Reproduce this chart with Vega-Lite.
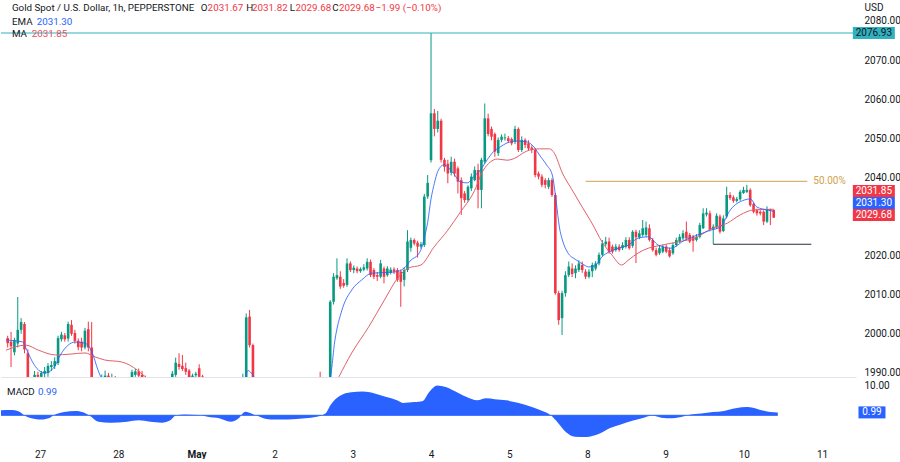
{
"$schema":"https://vega.github.io/schema/vega-lite/v6.json",
"padding":0,"spacing":0,"background":"white",
"config":{"view":{"stroke":null},"font":"Roboto","axis":{"labelFont":"Roboto","labelColor":"#131722","labelFontSize":10,"grid":false,"ticks":false,"tickSize":0,"domain":false}},
"datasets":{
"candles":[
{"i":0,"o":1998.9,"h":1999.5,"l":1996.5,"c":1997.6},{"i":1,"o":1998.0,"h":2000.5,"l":1991.5,"c":1996.8},{"i":2,"o":1995.3,"h":1999.0,"l":1994.5,"c":1998.4},{"i":3,"o":1997.5,"h":2009.4,"l":1996.5,"c":2001.0},{"i":4,"o":2001.0,"h":2004.0,"l":2000.0,"c":2003.0},{"i":5,"o":2002.5,"h":2003.0,"l":1995.0,"c":1996.0},{"i":6,"o":1995.0,"h":1996.0,"l":1986.0,"c":1987.0},{"i":7,"o":1987.0,"h":1988.0,"l":1984.0,"c":1986.0},{"i":8,"o":1986.0,"h":1990.5,"l":1985.5,"c":1989.5},{"i":9,"o":1989.5,"h":1990.3,"l":1987.0,"c":1989.0},
{"i":10,"o":1989.0,"h":1990.5,"l":1988.0,"c":1990.0},{"i":11,"o":1989.8,"h":1991.5,"l":1988.5,"c":1990.5},{"i":12,"o":1990.0,"h":1992.5,"l":1989.0,"c":1991.8},{"i":13,"o":1991.5,"h":1993.0,"l":1990.5,"c":1992.0},{"i":14,"o":1991.7,"h":1994.0,"l":1991.0,"c":1993.0},{"i":15,"o":1992.5,"h":1999.5,"l":1992.0,"c":1998.9},{"i":16,"o":1998.6,"h":2000.5,"l":1998.0,"c":1999.8},{"i":17,"o":1999.6,"h":2000.2,"l":1998.0,"c":1998.6},{"i":18,"o":1998.8,"h":2003.1,"l":1998.0,"c":2002.5},{"i":19,"o":2002.3,"h":2003.5,"l":1999.5,"c":2000.0},
{"i":20,"o":2000.2,"h":2001.0,"l":1997.5,"c":1998.2},{"i":21,"o":1998.2,"h":1998.8,"l":1995.8,"c":1996.6},{"i":22,"o":1998.0,"h":1999.0,"l":1995.5,"c":1996.5},{"i":23,"o":1996.5,"h":2001.5,"l":1996.0,"c":2000.8},{"i":24,"o":2001.2,"h":2003.1,"l":1995.5,"c":1996.5},{"i":25,"o":1996.5,"h":2003.0,"l":1985.0,"c":1987.0},{"i":26,"o":1987.0,"h":1988.0,"l":1984.0,"c":1985.0},{"i":27,"o":1985.0,"h":1987.5,"l":1984.5,"c":1986.5},{"i":28,"o":1986.5,"h":1989.6,"l":1986.0,"c":1988.0},{"i":29,"o":1988.0,"h":1990.6,"l":1987.5,"c":1989.3},
{"i":30,"o":1989.3,"h":1990.0,"l":1987.0,"c":1988.0},{"i":31,"o":1988.0,"h":1989.8,"l":1987.2,"c":1988.8},{"i":32,"o":1988.8,"h":1989.2,"l":1986.0,"c":1987.0},{"i":33,"o":1987.0,"h":1987.5,"l":1984.5,"c":1985.5},{"i":34,"o":1985.5,"h":1987.2,"l":1985.0,"c":1986.5},{"i":35,"o":1986.5,"h":1988.2,"l":1986.0,"c":1987.5},{"i":36,"o":1987.5,"h":1988.9,"l":1987.0,"c":1988.6},{"i":37,"o":1988.5,"h":1990.8,"l":1988.0,"c":1990.2},{"i":38,"o":1989.5,"h":1991.0,"l":1989.0,"c":1990.4},{"i":39,"o":1990.4,"h":1991.1,"l":1988.5,"c":1989.3},
{"i":40,"o":1989.5,"h":1990.5,"l":1987.5,"c":1988.5},{"i":41,"o":1988.7,"h":1989.3,"l":1986.8,"c":1987.5},{"i":42,"o":1987.5,"h":1988.0,"l":1984.8,"c":1985.5},{"i":43,"o":1985.5,"h":1986.0,"l":1982.0,"c":1983.0},{"i":44,"o":1983.0,"h":1985.5,"l":1982.5,"c":1984.5},{"i":45,"o":1984.5,"h":1985.0,"l":1981.0,"c":1982.0},{"i":46,"o":1982.0,"h":1985.0,"l":1981.5,"c":1984.0},{"i":47,"o":1984.0,"h":1987.0,"l":1983.5,"c":1986.0},{"i":48,"o":1986.0,"h":1988.8,"l":1985.5,"c":1988.3},{"i":49,"o":1988.5,"h":1990.5,"l":1987.5,"c":1989.8},
{"i":50,"o":1989.5,"h":1993.9,"l":1989.0,"c":1992.6},{"i":51,"o":1992.3,"h":1995.0,"l":1990.8,"c":1991.5},{"i":52,"o":1991.8,"h":1994.6,"l":1990.5,"c":1991.0},{"i":53,"o":1991.2,"h":1992.6,"l":1989.5,"c":1990.3},{"i":54,"o":1990.6,"h":1991.0,"l":1988.0,"c":1988.8},{"i":55,"o":1989.0,"h":1989.8,"l":1988.5,"c":1989.3},{"i":56,"o":1989.4,"h":1990.3,"l":1989.0,"c":1989.8},{"i":57,"o":1991.2,"h":1992.2,"l":1988.5,"c":1989.0},{"i":58,"o":1989.1,"h":1989.5,"l":1988.0,"c":1988.8},{"i":59,"o":1988.8,"h":1988.9,"l":1986.0,"c":1986.5},
{"i":60,"o":1986.5,"h":1987.0,"l":1983.0,"c":1984.0},{"i":61,"o":1984.0,"h":1986.0,"l":1983.5,"c":1985.0},{"i":62,"o":1985.0,"h":1985.5,"l":1981.5,"c":1982.5},{"i":63,"o":1982.5,"h":1983.0,"l":1979.0,"c":1980.0},{"i":64,"o":1980.0,"h":1983.0,"l":1979.5,"c":1982.0},{"i":65,"o":1982.0,"h":1982.5,"l":1977.0,"c":1978.5},{"i":66,"o":1978.5,"h":1982.0,"l":1977.5,"c":1981.0},{"i":67,"o":1981.0,"h":1984.0,"l":1980.5,"c":1983.5},{"i":68,"o":1983.5,"h":1986.0,"l":1983.0,"c":1985.0},{"i":69,"o":1985.0,"h":1987.5,"l":1984.5,"c":1986.8},
{"i":70,"o":1986.8,"h":1989.8,"l":1986.5,"c":1988.0},{"i":71,"o":1988.0,"h":2005.2,"l":1987.5,"c":2004.2},{"i":72,"o":2004.4,"h":2006.1,"l":1996.5,"c":1997.1},{"i":73,"o":1997.1,"h":1997.5,"l":1986.0,"c":1987.0},{"i":74,"o":1987.0,"h":1988.8,"l":1985.0,"c":1988.0},{"i":75,"o":1988.0,"h":1988.5,"l":1984.0,"c":1985.0},{"i":76,"o":1985.0,"h":1985.5,"l":1982.0,"c":1982.5},{"i":77,"o":1982.5,"h":1985.0,"l":1982.0,"c":1984.0},{"i":78,"o":1984.0,"h":1984.5,"l":1981.0,"c":1982.0},{"i":79,"o":1982.0,"h":1983.8,"l":1981.5,"c":1983.0},
{"i":80,"o":1983.0,"h":1984.5,"l":1982.5,"c":1983.8},{"i":81,"o":1983.8,"h":1984.2,"l":1982.0,"c":1982.6},{"i":82,"o":1982.6,"h":1984.0,"l":1982.0,"c":1983.5},{"i":83,"o":1983.5,"h":1983.8,"l":1981.0,"c":1982.0},{"i":84,"o":1982.0,"h":1983.5,"l":1981.5,"c":1982.8},{"i":85,"o":1982.8,"h":1984.2,"l":1982.4,"c":1983.6},{"i":86,"o":1983.6,"h":1984.0,"l":1982.5,"c":1982.9},{"i":87,"o":1982.9,"h":1985.0,"l":1982.5,"c":1984.5},{"i":88,"o":1984.5,"h":1986.2,"l":1984.0,"c":1985.6},{"i":89,"o":1985.6,"h":1986.0,"l":1983.6,"c":1984.2},
{"i":90,"o":1984.2,"h":1986.8,"l":1983.8,"c":1986.0},{"i":91,"o":1986.0,"h":1988.0,"l":1985.5,"c":1987.4},{"i":92,"o":1987.4,"h":1988.8,"l":1986.8,"c":1988.3},{"i":93,"o":1988.3,"h":1990.3,"l":1985.8,"c":1986.5},{"i":94,"o":1986.5,"h":1988.0,"l":1986.0,"c":1987.5},{"i":95,"o":1987.5,"h":1988.9,"l":1987.0,"c":1988.5},{"i":96,"o":1988.5,"h":2008.6,"l":1987.0,"c":2008.2},{"i":97,"o":2008.2,"h":2015.5,"l":2007.5,"c":2014.6},{"i":98,"o":2014.2,"h":2019.3,"l":2013.8,"c":2015.0},{"i":99,"o":2014.6,"h":2016.0,"l":2011.5,"c":2012.1},
{"i":100,"o":2013.0,"h":2014.0,"l":2011.8,"c":2012.3},{"i":101,"o":2012.5,"h":2019.3,"l":2012.0,"c":2018.0},{"i":102,"o":2018.0,"h":2018.5,"l":2015.8,"c":2016.3},{"i":103,"o":2016.3,"h":2017.5,"l":2015.5,"c":2016.9},{"i":104,"o":2016.7,"h":2017.2,"l":2015.5,"c":2016.0},{"i":105,"o":2016.0,"h":2017.0,"l":2015.6,"c":2016.6},{"i":106,"o":2016.4,"h":2017.8,"l":2016.0,"c":2017.0},{"i":107,"o":2016.7,"h":2019.3,"l":2016.2,"c":2018.4},{"i":108,"o":2018.4,"h":2019.0,"l":2014.5,"c":2015.0},{"i":109,"o":2016.3,"h":2016.8,"l":2014.0,"c":2014.6},
{"i":110,"o":2015.0,"h":2015.8,"l":2013.5,"c":2014.6},{"i":111,"o":2014.6,"h":2018.9,"l":2014.2,"c":2018.0},{"i":112,"o":2016.7,"h":2017.2,"l":2012.9,"c":2014.6},{"i":113,"o":2015.0,"h":2017.3,"l":2014.6,"c":2016.7},{"i":114,"o":2015.6,"h":2017.0,"l":2015.2,"c":2016.4},{"i":115,"o":2016.5,"h":2017.0,"l":2015.3,"c":2015.9},{"i":116,"o":2016.3,"h":2016.8,"l":2013.3,"c":2013.8},{"i":117,"o":2015.9,"h":2016.4,"l":2006.9,"c":2013.3},{"i":118,"o":2013.8,"h":2017.0,"l":2012.1,"c":2016.3},{"i":119,"o":2016.3,"h":2026.5,"l":2015.8,"c":2023.6},
{"i":120,"o":2022.0,"h":2024.6,"l":2021.0,"c":2024.0},{"i":121,"o":2024.0,"h":2024.4,"l":2022.6,"c":2023.1},{"i":122,"o":2023.3,"h":2023.8,"l":2019.5,"c":2022.3},{"i":123,"o":2022.3,"h":2023.5,"l":2021.8,"c":2022.9},{"i":124,"o":2022.7,"h":2035.8,"l":2022.2,"c":2035.1},{"i":125,"o":2035.1,"h":2040.6,"l":2034.5,"c":2038.6},{"i":126,"o":2044.4,"h":2076.93,"l":2043.8,"c":2056.4},{"i":127,"o":2056.4,"h":2057.5,"l":2050.5,"c":2052.4},{"i":128,"o":2052.4,"h":2057.0,"l":2051.5,"c":2054.5},{"i":129,"o":2054.5,"h":2055.0,"l":2043.8,"c":2044.5},
{"i":130,"o":2044.5,"h":2045.0,"l":2041.5,"c":2042.7},{"i":131,"o":2043.5,"h":2044.5,"l":2038.5,"c":2041.0},{"i":132,"o":2041.2,"h":2045.3,"l":2040.5,"c":2044.0},{"i":133,"o":2044.0,"h":2044.8,"l":2040.2,"c":2041.0},{"i":134,"o":2042.3,"h":2042.8,"l":2035.9,"c":2038.9},{"i":135,"o":2039.3,"h":2040.0,"l":2030.4,"c":2034.7},{"i":136,"o":2035.9,"h":2036.5,"l":2033.5,"c":2034.2},{"i":137,"o":2034.2,"h":2038.0,"l":2033.8,"c":2037.6},{"i":138,"o":2037.2,"h":2041.0,"l":2036.5,"c":2040.2},{"i":139,"o":2039.3,"h":2042.8,"l":2039.0,"c":2041.9},
{"i":140,"o":2041.9,"h":2043.5,"l":2032.1,"c":2036.8},{"i":141,"o":2036.8,"h":2045.0,"l":2032.1,"c":2044.5},{"i":142,"o":2044.0,"h":2058.9,"l":2043.5,"c":2055.1},{"i":143,"o":2055.1,"h":2056.3,"l":2050.5,"c":2051.1},{"i":144,"o":2052.4,"h":2053.0,"l":2049.5,"c":2050.4},{"i":145,"o":2051.1,"h":2051.5,"l":2045.3,"c":2046.6},{"i":146,"o":2046.2,"h":2050.2,"l":2045.5,"c":2049.6},{"i":147,"o":2049.6,"h":2051.0,"l":2049.0,"c":2050.4},{"i":148,"o":2050.0,"h":2051.2,"l":2049.4,"c":2050.2},{"i":149,"o":2050.0,"h":2050.6,"l":2048.8,"c":2049.3},
{"i":150,"o":2049.8,"h":2050.2,"l":2048.2,"c":2048.7},{"i":151,"o":2049.1,"h":2053.2,"l":2048.5,"c":2052.4},{"i":152,"o":2052.4,"h":2052.8,"l":2046.5,"c":2047.0},{"i":153,"o":2047.0,"h":2050.5,"l":2046.5,"c":2049.6},{"i":154,"o":2049.6,"h":2050.0,"l":2047.5,"c":2048.3},{"i":155,"o":2048.7,"h":2049.5,"l":2046.8,"c":2047.4},{"i":156,"o":2047.6,"h":2048.2,"l":2046.2,"c":2047.0},{"i":157,"o":2047.0,"h":2047.5,"l":2040.0,"c":2040.6},{"i":158,"o":2041.0,"h":2041.5,"l":2039.5,"c":2040.2},{"i":159,"o":2040.2,"h":2040.8,"l":2037.5,"c":2038.1},
{"i":160,"o":2039.3,"h":2039.8,"l":2037.2,"c":2038.1},{"i":161,"o":2037.6,"h":2039.9,"l":2037.0,"c":2039.3},{"i":162,"o":2039.3,"h":2039.8,"l":2035.0,"c":2035.5},{"i":163,"o":2035.5,"h":2036.0,"l":2010.0,"c":2010.4},{"i":164,"o":2010.4,"h":2011.0,"l":2002.3,"c":2003.5},{"i":165,"o":2004.0,"h":2011.0,"l":1999.7,"c":2010.4},{"i":166,"o":2010.4,"h":2016.0,"l":2009.5,"c":2015.0},{"i":167,"o":2015.0,"h":2018.5,"l":2014.5,"c":2017.2},{"i":168,"o":2016.7,"h":2018.0,"l":2014.5,"c":2015.3},{"i":169,"o":2015.5,"h":2017.5,"l":2014.2,"c":2016.7},
{"i":170,"o":2016.3,"h":2018.8,"l":2015.8,"c":2018.0},{"i":171,"o":2017.6,"h":2018.5,"l":2015.6,"c":2016.3},{"i":172,"o":2015.9,"h":2016.5,"l":2014.0,"c":2014.6},{"i":173,"o":2014.6,"h":2016.5,"l":2014.2,"c":2015.9},{"i":174,"o":2016.0,"h":2018.2,"l":2014.5,"c":2017.6},{"i":175,"o":2016.7,"h":2018.6,"l":2016.2,"c":2018.0},{"i":176,"o":2018.0,"h":2020.8,"l":2017.5,"c":2020.2},{"i":177,"o":2020.2,"h":2024.0,"l":2019.8,"c":2023.1},{"i":178,"o":2022.9,"h":2024.8,"l":2022.3,"c":2023.6},{"i":179,"o":2023.6,"h":2024.6,"l":2020.5,"c":2021.0},
{"i":180,"o":2022.3,"h":2022.8,"l":2020.5,"c":2021.0},{"i":181,"o":2021.4,"h":2023.0,"l":2021.0,"c":2022.3},{"i":182,"o":2022.3,"h":2022.9,"l":2021.0,"c":2021.4},{"i":183,"o":2021.9,"h":2023.4,"l":2021.4,"c":2022.7},{"i":184,"o":2022.3,"h":2024.7,"l":2021.8,"c":2024.0},{"i":185,"o":2024.0,"h":2024.7,"l":2021.5,"c":2021.9},{"i":186,"o":2022.5,"h":2026.5,"l":2022.0,"c":2026.1},{"i":187,"o":2026.1,"h":2026.6,"l":2018.1,"c":2024.7},{"i":188,"o":2024.7,"h":2026.5,"l":2024.2,"c":2025.7},{"i":189,"o":2025.3,"h":2029.1,"l":2024.8,"c":2027.0},
{"i":190,"o":2025.3,"h":2028.7,"l":2024.8,"c":2027.2},{"i":191,"o":2027.0,"h":2028.0,"l":2023.6,"c":2024.0},{"i":192,"o":2024.0,"h":2024.5,"l":2021.0,"c":2021.4},{"i":193,"o":2021.4,"h":2022.0,"l":2019.8,"c":2020.2},{"i":194,"o":2020.6,"h":2022.5,"l":2020.2,"c":2021.9},{"i":195,"o":2021.0,"h":2022.8,"l":2020.6,"c":2022.3},{"i":196,"o":2022.3,"h":2022.8,"l":2020.6,"c":2021.0},{"i":197,"o":2021.4,"h":2022.0,"l":2019.5,"c":2019.8},{"i":198,"o":2020.6,"h":2023.3,"l":2020.2,"c":2022.7},{"i":199,"o":2022.7,"h":2024.6,"l":2022.3,"c":2024.0},
{"i":200,"o":2023.6,"h":2025.5,"l":2023.2,"c":2024.8},{"i":201,"o":2024.4,"h":2026.5,"l":2024.0,"c":2025.7},{"i":202,"o":2026.1,"h":2028.7,"l":2024.0,"c":2024.4},{"i":203,"o":2025.3,"h":2025.8,"l":2023.2,"c":2023.6},{"i":204,"o":2024.8,"h":2025.3,"l":2021.0,"c":2023.8},{"i":205,"o":2024.0,"h":2025.5,"l":2023.6,"c":2024.8},{"i":206,"o":2024.8,"h":2028.4,"l":2024.4,"c":2027.8},{"i":207,"o":2027.0,"h":2032.1,"l":2026.8,"c":2030.8},{"i":208,"o":2030.5,"h":2032.1,"l":2030.0,"c":2031.0},{"i":209,"o":2030.8,"h":2031.5,"l":2026.2,"c":2026.7},
{"i":210,"o":2026.7,"h":2028.0,"l":2022.9,"c":2027.4},{"i":211,"o":2027.2,"h":2030.8,"l":2026.8,"c":2030.2},{"i":212,"o":2030.0,"h":2030.5,"l":2025.6,"c":2026.1},{"i":213,"o":2026.3,"h":2030.3,"l":2026.0,"c":2029.5},{"i":214,"o":2030.0,"h":2037.6,"l":2029.5,"c":2035.5},{"i":215,"o":2035.5,"h":2036.2,"l":2034.2,"c":2034.7},{"i":216,"o":2034.9,"h":2035.4,"l":2033.5,"c":2034.0},{"i":217,"o":2034.0,"h":2035.0,"l":2033.6,"c":2034.5},{"i":218,"o":2034.4,"h":2036.8,"l":2034.0,"c":2036.3},{"i":219,"o":2036.0,"h":2037.6,"l":2035.8,"c":2036.8},
{"i":220,"o":2036.3,"h":2038.1,"l":2036.0,"c":2036.8},{"i":221,"o":2036.8,"h":2037.2,"l":2032.5,"c":2032.9},{"i":222,"o":2033.2,"h":2033.6,"l":2030.8,"c":2031.2},{"i":223,"o":2031.6,"h":2032.0,"l":2030.2,"c":2030.8},{"i":224,"o":2031.2,"h":2031.6,"l":2030.3,"c":2030.8},{"i":225,"o":2031.2,"h":2031.6,"l":2027.8,"c":2028.7},{"i":226,"o":2028.7,"h":2032.6,"l":2028.3,"c":2031.8},{"i":227,"o":2031.8,"h":2032.0,"l":2027.8,"c":2031.5},{"i":228,"o":2031.67,"h":2031.82,"l":2029.68,"c":2029.68}
],
"ema":[
{"i":-0.5,"v":1998.4},{"i":4.5,"v":1997.9},{"i":5.4,"v":1996.4},{"i":7.4,"v":1992.8},{"i":9.2,"v":1990.7},{"i":11.3,"v":1990.0},{"i":14.2,"v":1992.0},{"i":15.7,"v":1994.6},{"i":18,"v":1997.1},{"i":20.1,"v":1997.9},{"i":23,"v":1997.6},{"i":25.1,"v":1995.3},{"i":26.9,"v":1990.7},{"i":28,"v":1988.7},{"i":32,"v":1987.6},{"i":36,"v":1987.8},{"i":40,"v":1988.2},{"i":45,"v":1985.8},{"i":49,"v":1987.5},{"i":52,"v":1988.6},{"i":55,"v":1988.9},{"i":58,"v":1988.6},{"i":63,"v":1985.5},{"i":67,"v":1983.5},{"i":70,"v":1986.0},{"i":71.5,"v":1990.6},{"i":72.5,"v":1990.0},{"i":74,"v":1988.0},{"i":80,"v":1984.5},{"i":88,"v":1984.0},{"i":94,"v":1986.8},{"i":96,"v":1989.0},{"i":97.4,"v":1998.4},{"i":99.5,"v":2006.1},{"i":102.4,"v":2011.2},{"i":105.4,"v":2013.8},{"i":108.3,"v":2015.5},{"i":115.1,"v":2015.8},{"i":118,"v":2016.8},{"i":120.1,"v":2018.9},{"i":122.1,"v":2020.2},{"i":123,"v":2021.5},{"i":124,"v":2024.5},{"i":125,"v":2028.5},{"i":126,"v":2034.5},{"i":127,"v":2038.5},{"i":128,"v":2041.5},{"i":129.8,"v":2043.2},{"i":132.7,"v":2041.0},{"i":134.8,"v":2038.8},{"i":136.9,"v":2038.6},{"i":138.6,"v":2040.1},{"i":140.7,"v":2041.9},{"i":142.7,"v":2044.5},{"i":144.5,"v":2046.5},{"i":146.6,"v":2047.8},{"i":148.6,"v":2048.8},{"i":151.6,"v":2049.3},{"i":154.5,"v":2049.1},{"i":156.9,"v":2047.5},{"i":158.3,"v":2045.7},{"i":160.4,"v":2043.2},{"i":162.1,"v":2040.6},{"i":163.3,"v":2033.5},{"i":164.2,"v":2027.3},{"i":165.1,"v":2024.0},{"i":166.6,"v":2020.9},{"i":169.2,"v":2018.9},{"i":171,"v":2017.9},{"i":173,"v":2017.1},{"i":175.1,"v":2017.6},{"i":176.8,"v":2019.6},{"i":178.9,"v":2020.9},{"i":181.9,"v":2021.9},{"i":184.8,"v":2022.7},{"i":187.7,"v":2024.5},{"i":190.7,"v":2024.8},{"i":193.6,"v":2022.7},{"i":197.4,"v":2021.9},{"i":201.6,"v":2024.0},{"i":205.4,"v":2025.3},{"i":209.2,"v":2026.5},{"i":212.1,"v":2027.3},{"i":215.1,"v":2031.7},{"i":219.2,"v":2034.2},{"i":221,"v":2034.5},{"i":223,"v":2032.4},{"i":226,"v":2031.7},{"i":228,"v":2031.3}
],
"ma":[
{"i":-0.5,"v":1995.8},{"i":5.4,"v":1997.1},{"i":9.2,"v":1995.8},{"i":14.2,"v":1994.6},{"i":18.6,"v":1994.8},{"i":23,"v":1995.1},{"i":26,"v":1994.1},{"i":28.9,"v":1993.3},{"i":33.9,"v":1992.8},{"i":38.6,"v":1990.7},{"i":40.7,"v":1989.2},{"i":42.2,"v":1988.2},{"i":50,"v":1987.0},{"i":60,"v":1986.8},{"i":70,"v":1985.5},{"i":80,"v":1985.0},{"i":90,"v":1984.0},{"i":96,"v":1984.5},{"i":98.6,"v":1989.0},{"i":102.4,"v":1995.1},{"i":107.4,"v":2001.7},{"i":112.1,"v":2008.6},{"i":116.3,"v":2014.5},{"i":119.2,"v":2016.8},{"i":123,"v":2017.6},{"i":126.9,"v":2022.2},{"i":131,"v":2026.5},{"i":134.8,"v":2031.2},{"i":138.6,"v":2036.0},{"i":141.6,"v":2041.9},{"i":143.6,"v":2043.9},{"i":145.7,"v":2044.7},{"i":148.6,"v":2044.4},{"i":151.6,"v":2045.2},{"i":153.3,"v":2046.2},{"i":155.4,"v":2047.0},{"i":158.3,"v":2047.3},{"i":161.3,"v":2047.3},{"i":162.7,"v":2046.2},{"i":165.1,"v":2041.1},{"i":168,"v":2036.8},{"i":171,"v":2032.4},{"i":173.9,"v":2028.3},{"i":176.9,"v":2023.5},{"i":179.8,"v":2020.2},{"i":182.7,"v":2017.6},{"i":184.8,"v":2018.9},{"i":187.7,"v":2020.7},{"i":190.7,"v":2021.9},{"i":193.6,"v":2022.5},{"i":199.5,"v":2023.5},{"i":205.4,"v":2024.8},{"i":209.2,"v":2026.8},{"i":214.2,"v":2028.3},{"i":218,"v":2030.4},{"i":222.1,"v":2031.7},{"i":228,"v":2031.85}
],
"macd":[
{"i":-0.5,"m":1.7},{"i":2.9,"m":1.8},{"i":5.4,"m":0.9},{"i":6.3,"m":0},{"i":7.9,"m":-0.8},{"i":11.3,"m":-1.4},{"i":13.9,"m":-0.8},{"i":15.0,"m":0},{"i":18.1,"m":1.1},{"i":21.4,"m":1.5},{"i":24.0,"m":0.9},{"i":25.7,"m":-0.2},{"i":28.2,"m":-2.2},{"i":31.6,"m":-2.5},{"i":36.6,"m":-2.2},{"i":40.0,"m":-1.7},{"i":43.4,"m":-2.2},{"i":46.8,"m":-2.5},{"i":49.3,"m":-1.7},{"i":51.0,"m":0},{"i":53.5,"m":0.3},{"i":57.7,"m":0.1},{"i":60.3,"m":-0.5},{"i":63.7,"m":-1.0},{"i":67.0,"m":-2.2},{"i":69.6,"m":-0.8},{"i":71.3,"m":1.2},{"i":73.8,"m":0.3},{"i":76.3,"m":-0.8},{"i":78.9,"m":-1.4},{"i":83.9,"m":-1.4},{"i":89.0,"m":-1.0},{"i":92.4,"m":-0.5},{"i":94.9,"m":0.6},{"i":96.6,"m":3.8},{"i":99.1,"m":6.6},{"i":102.5,"m":7.9},{"i":105.9,"m":8.1},{"i":109.2,"m":7.5},{"i":112.6,"m":6.3},{"i":116.0,"m":5.1},{"i":117.7,"m":4.2},{"i":121.1,"m":4.5},{"i":123.6,"m":4.9},{"i":125.3,"m":7.7},{"i":127.8,"m":10.2},{"i":130.3,"m":9.7},{"i":132.9,"m":8.3},{"i":136.3,"m":6.3},{"i":139.6,"m":5.1},{"i":142.2,"m":5.8},{"i":144.7,"m":5.5},{"i":148.1,"m":5.1},{"i":151.5,"m":4.3},{"i":154.8,"m":3.2},{"i":158.2,"m":1.7},{"i":161.2,"m":0},{"i":163.3,"m":-2.5},{"i":165.8,"m":-5.9},{"i":168.3,"m":-7.3},{"i":171.7,"m":-7.4},{"i":175.1,"m":-6.5},{"i":178.5,"m":-4.4},{"i":181.8,"m":-3.1},{"i":185.2,"m":-1.9},{"i":188.6,"m":-0.8},{"i":191.1,"m":-0.1},{"i":193.7,"m":-0.8},{"i":197.0,"m":-1.0},{"i":200.4,"m":-0.3},{"i":202.1,"m":0.2},{"i":205.5,"m":0.6},{"i":208.9,"m":1.1},{"i":212.2,"m":1.5},{"i":215.6,"m":2.4},{"i":219.0,"m":2.8},{"i":222.4,"m":2.0},{"i":225.7,"m":1.1},{"i":228,"m":0.99}
]
},
"vconcat":[
{
"width":855,"height":377,
"layer":[
{"data":{"name":"candles"},"mark":{"type":"rule","clip":true,"strokeWidth":1},
 "encoding":{
  "x":{"field":"i","type":"quantitative","scale":{"domain":[-0.5,251],"nice":false,"zero":false},"axis":{"orient":"bottom","labels":false,"ticks":false,"domain":true,"domainColor":"#e0e3eb","grid":false,"title":null}},
  "y":{"field":"l","type":"quantitative","scale":{"domain":[1988.95,2085.37],"nice":false,"zero":false},"axis":{"orient":"right","values":[1990,2000,2010,2020,2040,2050,2060,2070,2080],"format":".2f","labelPadding":8,"title":"USD","titleAngle":0,"titleAlign":"left","titleBaseline":"middle","titleX":8,"titleY":7,"titleFont":"Roboto","titleFontSize":10,"titleFontWeight":"normal","titleColor":"#131722"}},
  "y2":{"field":"h"},
  "color":{"condition":{"test":"datum.c >= datum.o","value":"#089981"},"value":"#f23645"}}},
{"data":{"name":"candles"},"mark":{"type":"bar","clip":true,"size":2.6},
 "encoding":{
  "x":{"field":"i","type":"quantitative"},
  "y":{"field":"o","type":"quantitative"},
  "y2":{"field":"c"},
  "color":{"condition":{"test":"datum.c >= datum.o","value":"#089981"},"value":"#f23645"}}},
{"data":{"name":"ma"},"mark":{"type":"line","clip":true,"color":"#e0606b","strokeWidth":1,"interpolate":"monotone"},
 "encoding":{"x":{"field":"i","type":"quantitative"},"y":{"field":"v","type":"quantitative"}}},
{"data":{"name":"ema"},"mark":{"type":"line","clip":true,"color":"#2962ff","strokeWidth":1,"opacity":0.85,"interpolate":"monotone"},
 "encoding":{"x":{"field":"i","type":"quantitative"},"y":{"field":"v","type":"quantitative"}}},
{"data":{"values":[{"level":2076.93}]},"mark":{"type":"rule","color":"#2fb1bf","strokeWidth":1},
 "encoding":{"y":{"field":"level","type":"quantitative"}}},
{"data":{"values":[{"from":172,"to":238,"level":2039.0}]},"mark":{"type":"rule","color":"#d1a24a","strokeWidth":1},
 "encoding":{"x":{"field":"from","type":"quantitative"},"x2":{"field":"to"},"y":{"field":"level","type":"quantitative"}}},
{"data":{"values":[{"from":210,"to":239.2,"level":2022.9}]},"mark":{"type":"rule","color":"#2a2e39","strokeWidth":1},
 "encoding":{"x":{"field":"from","type":"quantitative"},"x2":{"field":"to"},"y":{"field":"level","type":"quantitative"}}},
{"data":{"values":[{"label":"50.00%","level":2039.0}]},"mark":{"type":"text","align":"left","baseline":"middle","fontSize":10,"color":"#d1a24a"},
 "encoding":{"x":{"datum":239.8},"y":{"field":"level","type":"quantitative"},"text":{"field":"label"}}},
{"data":{"values":[{"value":2076.93}]},"layer":[
 {"mark":{"type":"point","shape":"M-1,-0.2857H1V0.2857H-1Z","size":1764,"filled":true,"opacity":1,"color":"#2fb1bf","strokeWidth":0},"encoding":{"x":{"datum":257.8},"y":{"field":"value","type":"quantitative"}}},
 {"mark":{"type":"text","align":"center","baseline":"middle","fontSize":10,"color":"#131722"},"encoding":{"x":{"datum":257.8},"y":{"field":"value","type":"quantitative"},"text":{"field":"value","format":".2f"}}}]},
{"data":{"values":[{"value":2031.85}]},"layer":[
 {"mark":{"type":"point","shape":"M-1,-0.2857H1V0.2857H-1Z","size":1764,"filled":true,"opacity":1,"color":"#f23645","strokeWidth":0},"encoding":{"x":{"datum":257.8},"y":{"datum":2036.52}}},
 {"mark":{"type":"text","align":"center","baseline":"middle","fontSize":10,"color":"white"},"encoding":{"x":{"datum":257.8},"y":{"datum":2036.52},"text":{"field":"value","format":".2f"}}}]},
{"data":{"values":[{"value":2031.30}]},"layer":[
 {"mark":{"type":"point","shape":"M-1,-0.2857H1V0.2857H-1Z","size":1764,"filled":true,"opacity":1,"color":"#2962ff","strokeWidth":0},"encoding":{"x":{"datum":257.8},"y":{"datum":2033.45}}},
 {"mark":{"type":"text","align":"center","baseline":"middle","fontSize":10,"color":"white"},"encoding":{"x":{"datum":257.8},"y":{"datum":2033.45},"text":{"field":"value","format":".2f"}}}]},
{"data":{"values":[{"value":2029.68}]},"layer":[
 {"mark":{"type":"point","shape":"M-1,-0.2857H1V0.2857H-1Z","size":1764,"filled":true,"opacity":1,"color":"#f23645","strokeWidth":0},"encoding":{"x":{"datum":257.8},"y":{"datum":2030.38}}},
 {"mark":{"type":"text","align":"center","baseline":"middle","fontSize":10,"color":"white"},"encoding":{"x":{"datum":257.8},"y":{"datum":2030.38},"text":{"field":"value","format":".2f"}}}]},
{"data":{"values":[{}]},"mark":{"type":"text","text":"Gold Spot / U.S. Dollar, 1h, PEPPERSTONE","align":"left","baseline":"middle","fontSize":9.8,"color":"#131722"},"encoding":{"x":{"datum":1.265},"y":{"datum":2083.45}}},
{"data":{"values":[{}]},"mark":{"type":"text","text":"O","align":"left","baseline":"middle","fontSize":9.8,"color":"#131722"},"encoding":{"x":{"datum":57.45},"y":{"datum":2083.45}}},
{"data":{"values":[{}]},"mark":{"type":"text","text":"2031.67","align":"left","baseline":"middle","fontSize":9.8,"color":"#f23645"},"encoding":{"x":{"datum":59.51},"y":{"datum":2083.45}}},
{"data":{"values":[{}]},"mark":{"type":"text","text":"H","align":"left","baseline":"middle","fontSize":9.8,"color":"#131722"},"encoding":{"x":{"datum":70.98},"y":{"datum":2083.45}}},
{"data":{"values":[{}]},"mark":{"type":"text","text":"2031.82","align":"left","baseline":"middle","fontSize":9.8,"color":"#f23645"},"encoding":{"x":{"datum":72.74},"y":{"datum":2083.45}}},
{"data":{"values":[{}]},"mark":{"type":"text","text":"L","align":"left","baseline":"middle","fontSize":9.8,"color":"#131722"},"encoding":{"x":{"datum":83.92},"y":{"datum":2083.45}}},
{"data":{"values":[{}]},"mark":{"type":"text","text":"2029.68","align":"left","baseline":"middle","fontSize":9.8,"color":"#f23645"},"encoding":{"x":{"datum":85.69},"y":{"datum":2083.45}}},
{"data":{"values":[{}]},"mark":{"type":"text","text":"C","align":"left","baseline":"middle","fontSize":9.8,"color":"#131722"},"encoding":{"x":{"datum":96.57},"y":{"datum":2083.45}}},
{"data":{"values":[{}]},"mark":{"type":"text","text":"2029.68","align":"left","baseline":"middle","fontSize":9.8,"color":"#f23645"},"encoding":{"x":{"datum":98.63},"y":{"datum":2083.45}}},
{"data":{"values":[{}]},"mark":{"type":"text","text":"−1.99 (−0.10%)","align":"left","baseline":"middle","fontSize":9.8,"color":"#f23645"},"encoding":{"x":{"datum":109.51},"y":{"datum":2083.45}}},
{"data":{"values":[{}]},"mark":{"type":"text","text":"EMA","align":"left","baseline":"middle","fontSize":9.8,"color":"#131722"},"encoding":{"x":{"datum":1.265},"y":{"datum":2079.82}}},
{"data":{"values":[{}]},"mark":{"type":"text","text":"2031.30","align":"left","baseline":"middle","fontSize":9.8,"color":"#2962ff"},"encoding":{"x":{"datum":8.62},"y":{"datum":2079.82}}},
{"data":{"values":[{}]},"mark":{"type":"text","text":"MA","align":"left","baseline":"middle","fontSize":9.8,"color":"#131722"},"encoding":{"x":{"datum":1.265},"y":{"datum":2076.55}}},
{"data":{"values":[{}]},"mark":{"type":"text","text":"2031.85","align":"left","baseline":"middle","fontSize":9.8,"color":"#e0525e"},"encoding":{"x":{"datum":7.15},"y":{"datum":2076.55}}}
]
},
{
"width":855,"height":63,
"layer":[
{"data":{"name":"macd"},"mark":{"type":"area","clip":true,"color":"#2962ff","opacity":1,"interpolate":"monotone"},
 "encoding":{
  "x":{"field":"i","type":"quantitative","scale":{"domain":[-0.5,251],"nice":false,"zero":false},"axis":{"orient":"bottom","values":[11,34,57,80,103,126,149,172,195,218,241],"labelExpr":"['27','28','May','2','3','4','5','8','9','10','11'][round((datum.value-11)/23)]","labelPadding":8,"labelFontWeight":{"condition":{"test":"datum.value == 57","value":"bold"},"value":"normal"},"title":null}},
  "y":{"field":"m","type":"quantitative","scale":{"domain":[-8.77,12.73],"nice":false,"zero":false},"axis":{"orient":"right","values":[10],"format":".2f","labelPadding":8,"title":null}},
  "y2":{"datum":0}}},
{"data":{"values":[{"from":-0.5,"to":228,"level":0}]},"mark":{"type":"rule","color":"#2962ff","strokeWidth":1},
 "encoding":{"x":{"field":"from","type":"quantitative"},"x2":{"field":"to"},"y":{"field":"level","type":"quantitative"}}},
{"data":{"values":[{"value":0.99}]},"layer":[
 {"mark":{"type":"point","shape":"M-1,-0.444H1V0.444H-1Z","size":729,"filled":true,"opacity":1,"color":"#2962ff","strokeWidth":0},"encoding":{"x":{"datum":255.7},"y":{"field":"value","type":"quantitative"}}},
 {"mark":{"type":"text","align":"center","baseline":"middle","fontSize":10,"color":"white"},"encoding":{"x":{"datum":255.7},"y":{"field":"value","type":"quantitative"},"text":{"field":"value","format":".2f"}}}]},
{"data":{"values":[{}]},"mark":{"type":"text","text":"MACD","align":"left","baseline":"middle","fontSize":9.8,"color":"#131722"},"encoding":{"x":{"datum":1.265},"y":{"datum":8.05}}},
{"data":{"values":[{}]},"mark":{"type":"text","text":"0.99","align":"left","baseline":"middle","fontSize":9.8,"color":"#2962ff"},"encoding":{"x":{"datum":10.38},"y":{"datum":8.05}}}
]
}
]
}
